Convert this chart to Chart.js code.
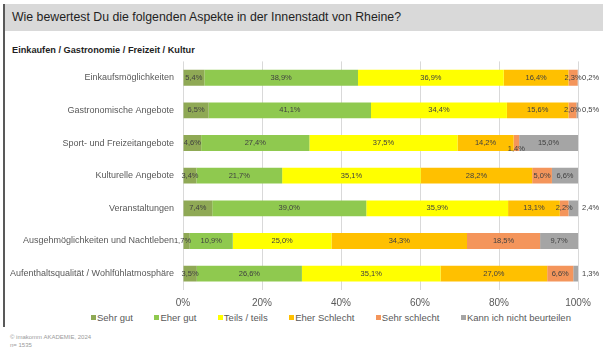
<!DOCTYPE html>
<html lang="de">
<head>
<meta charset="utf-8">
<title>Innenstadt Rheine</title>
<script src="https://cdn.jsdelivr.net/npm/chart.js@4/dist/chart.umd.min.js"></script>
<style>
    body {
        margin: 0;
        width: 605px;
        height: 351px;
        background: #fff;
        font-family: "Liberation Sans", Arial, sans-serif;
        position: relative;
        overflow: hidden;
    }
    .frame-line {
        position: absolute;
        left: 3px;
        top: 4px;
        width: 2px;
        height: 323px;
        background: #595959;
    }
    .header {
        position: absolute;
        left: 5px;
        top: 4px;
        width: 598px;
        height: 27px;
        background: #d9d9d9;
    }
    .title {
        position: absolute;
        left: 12px;
        top: 10px;
        font-size: 12.3px;
        color: #1f1f1f;
        white-space: nowrap;
    }
    .subtitle {
        position: absolute;
        left: 12px;
        top: 45px;
        font-size: 9.2px;
        font-weight: bold;
        color: #1f1f1f;
        white-space: nowrap;
    }
    .chart-box {
        position: absolute;
        left: 0;
        top: 55px;
        width: 605px;
        height: 257px;
    }
    .legend {
        position: absolute;
        left: 91px;
        top: 312px;
        display: flex;
        gap: 21.5px;
        font-size: 9.5px;
        color: #595959;
        white-space: nowrap;
    }
    .legend-item {
        display: flex;
        align-items: center;
    }
    .legend-swatch {
        width: 5px;
        height: 5px;
        margin-right: 1px;
    }
    .footer {
        position: absolute;
        left: 10px;
        top: 333px;
        font-size: 6px;
        line-height: 8px;
        color: #9a9a9a;
    }
</style>
</head>
<body>
<div class="frame-line"></div>
<div class="header"></div>
<div class="title">Wie bewertest Du die folgenden Aspekte in der Innenstadt von Rheine?</div>
<div class="subtitle">Einkaufen / Gastronomie / Freizeit / Kultur</div>
<div class="chart-box"><canvas id="ratingChart"></canvas></div>
<div class="legend" id="legend"></div>
<div class="footer">© imakomm AKADEMIE, 2024<br>n= 1535</div>

<script>
// Chart data
const categories = [
    'Einkaufsmöglichkeiten',
    'Gastronomische Angebote',
    'Sport- und Freizeitangebote',
    'Kulturelle Angebote',
    'Veranstaltungen',
    'Ausgehmöglichkeiten und Nachtleben',
    'Aufenthaltsqualität / Wohlfühlatmosphäre'
];
const seriesNames = ['Sehr gut', 'Eher gut', 'Teils / teils', 'Eher Schlecht', 'Sehr schlecht', 'Kann ich nicht beurteilen'];
const seriesColors = ['#8fa955', '#8fc94f', '#ffff00', '#ffc000', '#f4955b', '#a5a5a5'];

const sehrGut      = [5.4, 6.5, 4.6, 3.4, 7.4, 1.7, 3.5];
const eherGut      = [38.9, 41.1, 27.4, 21.7, 39.0, 10.9, 26.6];
const teilsTeils   = [36.9, 34.4, 37.5, 35.1, 35.9, 25.0, 35.1];
const eherSchlecht = [16.4, 15.6, 14.2, 28.2, 13.1, 34.3, 27.0];
const sehrSchlecht = [2.3, 2.0, 1.4, 5.0, 2.2, 18.5, 6.6];
const kannNicht    = [0.2, 0.5, 15.0, 6.6, 2.4, 9.7, 1.3];

const xTicks = [0, 20, 40, 60, 80, 100];

const seriesValues = [sehrGut, eherGut, teilsTeils, eherSchlecht, sehrSchlecht, kannNicht];

function formatPct(value) {
    return value.toFixed(1).replace('.', ',') + '%';
}

// value labels inside the bar segments
const segmentLabels = {
    id: 'segmentLabels',
    afterDatasetsDraw(chart) {
        const ctx = chart.ctx;
        const area = chart.chartArea;
        const lastIndex = chart.data.datasets.length - 1;
        ctx.save();
        ctx.font = '7.5px "Liberation Sans", Arial, sans-serif';
        ctx.fillStyle = '#404040';
        ctx.textBaseline = 'middle';
        chart.data.datasets.forEach((dataset, di) => {
            const meta = chart.getDatasetMeta(di);
            meta.data.forEach((bar, i) => {
                const value = dataset.data[i];
                const end = Math.min(bar.x, area.right);
                let x = (bar.base + end) / 2;
                let y = bar.y;
                ctx.textAlign = 'center';
                if (di === lastIndex && value < 3) {
                    ctx.textAlign = 'left';
                    x = end + 4;
                } else if (di === 0 && value < 2) {
                    x = bar.base - 1;
                } else if (value < 1.5) {
                    y += 6;
                }
                ctx.fillText(formatPct(value), x, y);
            });
        });
        ctx.restore();
    }
};

function buildLegend() {
    const legend = document.getElementById('legend');
    legend.innerHTML = seriesNames.map((name, i) => `
        <div class="legend-item">
            <span class="legend-swatch" style="background:${seriesColors[i]}"></span>${name}
        </div>
    `).join('');
}

document.addEventListener('DOMContentLoaded', function() {
    buildLegend();

    const ctx = document.getElementById('ratingChart').getContext('2d');
    new Chart(ctx, {
        type: 'bar',
        data: {
            labels: categories,
            datasets: seriesNames.map((name, i) => ({
                label: name,
                data: seriesValues[i],
                backgroundColor: seriesColors[i],
                borderWidth: 0,
                barPercentage: 0.485,
                categoryPercentage: 1
            }))
        },
        options: {
            indexAxis: 'y',
            responsive: true,
            maintainAspectRatio: false,
            animation: false,
            layout: {
                padding: { top: 3.5, right: 27, bottom: 0, left: 0 }
            },
            plugins: {
                legend: { display: false },
                tooltip: { enabled: false }
            },
            scales: {
                x: {
                    stacked: true,
                    min: 0,
                    max: 100,
                    afterBuildTicks: function(scale) {
                        scale.ticks = xTicks.map(v => ({ value: v }));
                    },
                    afterFit: function(scale) {
                        scale.height = 22;
                    },
                    grid: {
                        color: '#d9d9d9',
                        drawTicks: false
                    },
                    border: { display: false },
                    ticks: {
                        padding: 7,
                        color: '#595959',
                        font: { family: '"Liberation Sans", Arial, sans-serif', size: 10 },
                        callback: function(value) {
                            return value + '%';
                        }
                    }
                },
                y: {
                    stacked: true,
                    afterFit: function(scale) {
                        scale.width = 183;
                    },
                    grid: { display: false },
                    border: { display: false },
                    ticks: {
                        padding: 1,
                        color: '#595959',
                        font: { family: '"Liberation Sans", Arial, sans-serif', size: 9 }
                    }
                }
            }
        },
        plugins: [segmentLabels]
    });
});
</script>
</body>
</html>
